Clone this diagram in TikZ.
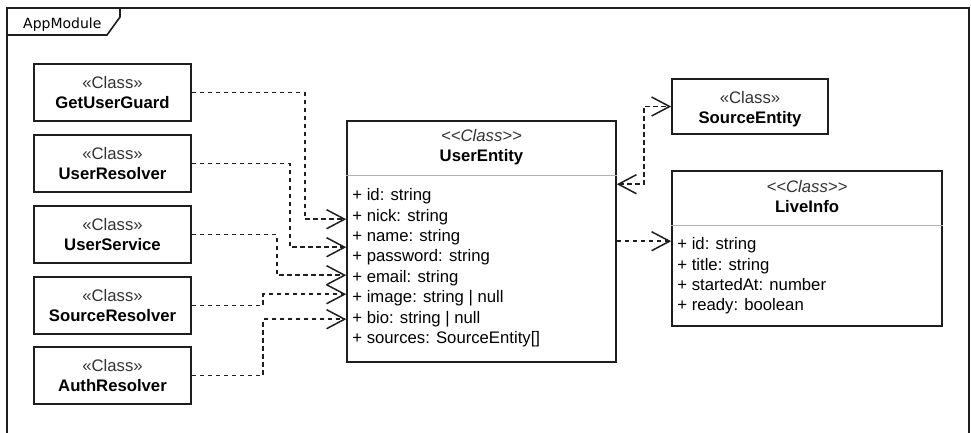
\documentclass[tikz,border=0pt]{standalone}
\usepackage{fontspec}
\setmainfont{Liberation Sans}
\newfontfamily\tabfont{DejaVu Sans}
\usetikzlibrary{arrows.meta,calc}
\definecolor{linec}{HTML}{1E1E1E}
\definecolor{stereoc}{HTML}{333333}
\definecolor{sepc}{HTML}{B0B0B0}
\begin{document}
\begin{tikzpicture}[x=1pt,y=-1pt,
  classbox/.style={draw=linec, line width=1.6pt, fill=white, inner sep=0pt},
  stereo/.style={anchor=base, inner sep=0pt, text=stereoc, font=\fontsize{16.7}{20}\selectfont},
  cname/.style={anchor=base, inner sep=0pt, text=black, font=\fontsize{16.7}{20}\selectfont\bfseries},
  attr/.style={anchor=base west, inner sep=0pt, text=black, font=\fontsize{16.7}{20}\selectfont},
  sep/.style={draw=sepc, line width=1.2pt},
  dep/.style={draw=linec, line width=1.5pt, dash pattern=on 4.5pt off 3.5pt, -{Straight Barb[length=18pt,width=19pt]}},
  bidep/.style={draw=linec, line width=1.5pt, dash pattern=on 4.5pt off 3.5pt, {Straight Barb[length=18pt,width=19pt]}-{Straight Barb[length=18pt,width=19pt]}}
]
\clip (0,0) rectangle (971,432);
\fill[white] (0,0) rectangle (971,432);

% frame
\draw[linec, line width=1.6pt] (7,450) -- (7,8) -- (969,8) -- (969,450);
\draw[linec, line width=1.6pt] (7,35) -- (107,35) -- (120,17) -- (120,8);
\node[inner sep=0pt, anchor=base west, font=\tabfont\fontsize{14}{16}\selectfont] (tab) at (23,28) {AppModule};

% left classes
\node[classbox, minimum width=157pt, minimum height=57pt] (gug) at (112.5,92.5) {};
\node[classbox, minimum width=157pt, minimum height=57pt] (ur) at (112.5,163.5) {};
\node[classbox, minimum width=157pt, minimum height=57pt] (us) at (112.5,234.5) {};
\node[classbox, minimum width=157pt, minimum height=57pt] (sr) at (112.5,305.5) {};
\node[classbox, minimum width=157pt, minimum height=57pt] (ar) at (112.5,375.5) {};
\foreach \n/\t in {gug/GetUserGuard, ur/UserResolver, us/UserService, sr/SourceResolver, ar/AuthResolver}{
  \node[stereo] (\n-s) at ($(\n.north)+(0,25)$) {«Class»};
  \node[cname] (\n-n) at ($(\n.north)+(0,45)$) {\t};
}

% UserEntity
\node[classbox, minimum width=269pt, minimum height=241pt] (ue) at (481.5,241.5) {};
\draw[sep] ($(ue.north west)+(0,55)$) -- ($(ue.north east)+(0,55)$);
\node[stereo] (ue-s) at ($(ue.north)+(0,21)$) {\itshape <{}<Class>{}>};
\node[cname] (ue-n) at ($(ue.north)+(0,41)$) {UserEntity};
\foreach \i/\t in {0/+ id: string, 1/+ nick: string, 2/+ name: string, 3/+ password: string, 4/+ email: string, 5/+ image: string | null, 6/+ bio: string | null, 7/+ sources: SourceEntity[]}{
  \node[attr] (ue-a\i) at ($(ue.north west)+(6,80.5+20.4*\i)$) {\t};
}

% SourceEntity
\node[classbox, minimum width=156pt, minimum height=55pt] (se) at (750,106.5) {};
\node[stereo] (se-s) at ($(se.north)+(0,25)$) {«Class»};
\node[cname] (se-n) at ($(se.north)+(0,45)$) {SourceEntity};

% LiveInfo
\node[classbox, minimum width=270pt, minimum height=155pt] (li) at (807,248.5) {};
\draw[sep] ($(li.north west)+(0,55)$) -- ($(li.north east)+(0,55)$);
\node[stereo] (li-s) at ($(li.north)+(0,22)$) {\itshape <{}<Class>{}>};
\node[cname] (li-n) at ($(li.north)+(0,42)$) {LiveInfo};
\foreach \i/\t in {0/+ id: string, 1/+ title: string, 2/+ startedAt: number, 3/+ ready: boolean}{
  \node[attr] (li-a\i) at ($(li.north west)+(6,79.5+20.4*\i)$) {\t};
}

% entry points on UserEntity
\coordinate (in1) at ($(ue.north west)+(0,99)$);
\coordinate (in2) at ($(ue.north west)+(0,127)$);
\coordinate (in3) at ($(ue.north west)+(0,155)$);
\coordinate (in4) at ($(ue.north west)+(0,174)$);
\coordinate (in5) at ($(ue.north west)+(0,199)$);
\coordinate (out1) at ($(ue.north east)+(0,64)$);
\coordinate (out2) at ($(ue.north east)+(0,121)$);

% connectors
\draw[dep] (gug.east) -- ++(113,0) |- (in1);
\draw[dep] (ur.east) -- ++(98,0) |- (in2);
\draw[dep] (us.east) -- ++(85,0) |- (in3);
\draw[dep] (sr.east) -- ++(71,0) |- (in4);
\draw[dep] (ar.east) -- ++(71,0) |- (in5);
\draw[bidep] (out1) -- ++(27,0) |- (se.west);
\draw[dep] (out2) -- (out2 -| li.west);
\end{tikzpicture}
\end{document}
